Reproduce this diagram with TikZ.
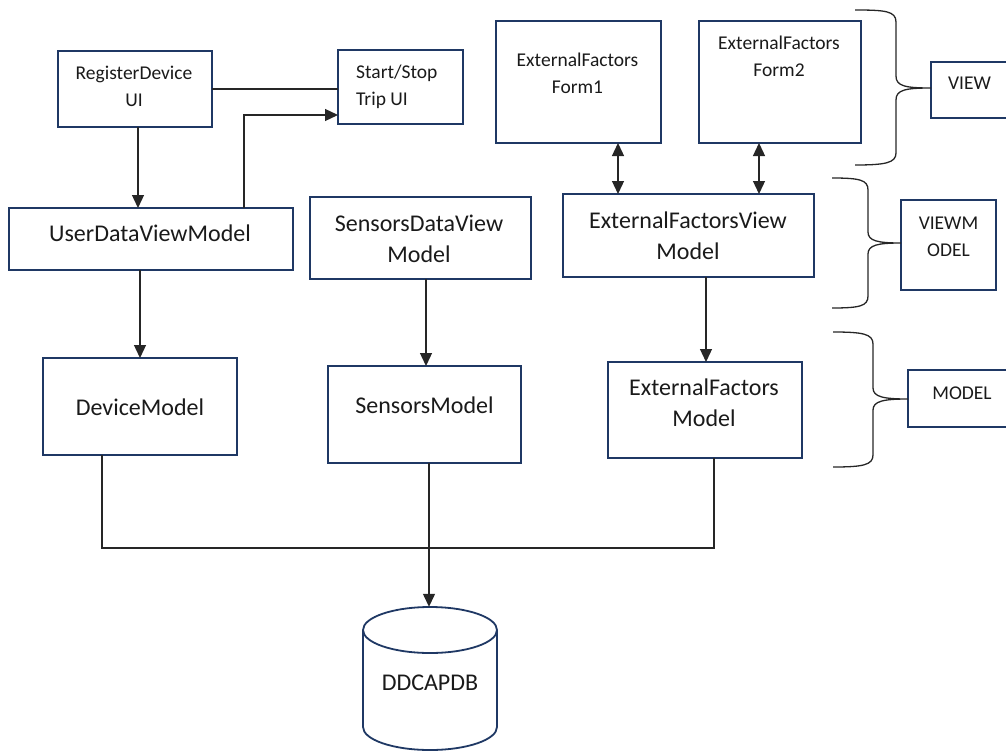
\documentclass[tikz,border=0pt]{standalone}
\usepackage{fontspec}
\setmainfont{Carlito}
\usetikzlibrary{arrows.meta,calc}
\definecolor{navy}{HTML}{1F3864}
\definecolor{ink}{HTML}{1A1A1A}
\definecolor{wire}{HTML}{262626}
\begin{document}
\begin{tikzpicture}[x=1pt,y=-1pt,
  box/.style={draw=navy,line width=1.8pt,inner sep=0pt,outer sep=0pt,fill=none},
  small/.style={text=ink,align=center,inner sep=0pt,font=\fontsize{19.5}{27}\selectfont},
  big/.style={text=ink,align=center,inner sep=0pt,font=\fontsize{24}{31}\selectfont},
  wireline/.style={draw=wire,line width=1.3pt},
  arr/.style={wireline,-{Triangle[length=13pt,width=12pt]}},
  darr/.style={wireline,{Triangle[length=13pt,width=12pt]}-{Triangle[length=13pt,width=12pt]}},
  brace/.style={draw=wire,line width=1.3pt}]
\useasboundingbox (0,0) rectangle (1006,752);
\clip (0,0) rectangle (1006,752);
% boxes
\node[box,minimum width=154pt,minimum height=76pt] (rd) at (135,89) {};
\node[box,minimum width=125pt,minimum height=74pt] (ss) at (400.5,87) {};
\node[box,minimum width=284pt,minimum height=62pt] (udvm) at (151,239) {};
\node[box,minimum width=221pt,minimum height=82pt] (sdvm) at (420.5,238) {};
\node[box,minimum width=165pt,minimum height=122pt] (ef1) at (578.5,82) {};
\node[box,minimum width=162pt,minimum height=122pt] (ef2) at (780,82) {};
\node[box,minimum width=251pt,minimum height=83pt] (efvm) at (688.5,235.5) {};
\node[box,minimum width=194pt,minimum height=97pt] (dm) at (140,406.5) {};
\node[box,minimum width=193pt,minimum height=97pt] (sm) at (424.5,414.5) {};
\node[box,minimum width=194pt,minimum height=96pt] (efm) at (705,410) {};
\node[box,minimum width=84pt,minimum height=56pt] (view) at (973,90) {};
\node[box,minimum width=95pt,minimum height=90pt] (vm) at (948.5,245) {};
\node[box,minimum width=106pt,minimum height=57pt] (model) at (961,398.5) {};
% texts
\node[small] (rd-t) at (134,86.5) {RegisterDevice\\UI};
\node[small,align=left,anchor=west] (ss-t) at (356,86.5) {Start/Stop\\Trip UI};
\node[big] (udvm-t) at (150,233) {UserDataViewModel};
\node[big] (sdvm-t) at (419,239) {SensorsDataView\\Model};
\node[small] (ef1-t) at (577.5,73.5) {ExternalFactors\\Form1};
\node[small] (ef2-t) at (779,56.5) {ExternalFactors\\Form2};
\node[big] (efvm-t) at (688,235.5) {ExternalFactorsView\\Model};
\node[big] (dm-t) at (140,407) {DeviceModel};
\node[big] (sm-t) at (424.5,405) {SensorsModel};
\node[big] (efm-t) at (704,403) {ExternalFactors\\Model};
\node[small] (view-t) at (969.5,83) {VIEW};
\node[small] (vm-t) at (948.5,236.5) {VIEWM\\ODEL};
\node[small] (model-t) at (962,393) {MODEL};
% database
\node[inner sep=0pt,minimum width=134pt,minimum height=143pt] (db) at (430,678.5) {};
\draw[draw=navy,line width=1.8pt] (363,630) -- (363,727)
  arc[start angle=180,end angle=360,x radius=67pt,y radius=23pt] -- (497,630);
\draw[draw=navy,line width=1.8pt] (430,630) ellipse[x radius=67pt,y radius=23pt];
\node[big] (db-t) at (430,683) {DDCAPDB};
% connectors
\draw[wireline] (rd.east) -- (rd.east -| ss.west);
\draw[arr] ([xshift=3pt]rd.south) -- ([xshift=3pt]rd.south |- udvm.north);
\draw[arr] ([xshift=93pt]udvm.north) |- ([yshift=-28pt]ss.west);
\draw[arr] (dm.north |- udvm.south) -- (dm.north);
\draw[arr] ([xshift=1.5pt]sm.north |- sdvm.south) -- ([xshift=1.5pt]sm.north);
\draw[arr] ([xshift=1pt]efm.north |- efvm.south) -- ([xshift=1pt]efm.north);
\draw[darr] ([xshift=39.5pt]ef1.south) -- ([xshift=39.5pt]ef1.south |- efvm.north);
\draw[darr] ([xshift=-21pt]ef2.south) -- ([xshift=-21pt]ef2.south |- efvm.north);
\coordinate (bus) at (430,548);
\draw[wireline] ([xshift=-38pt]dm.south) |- ([xshift=9pt]efm.south |- bus) -- ([xshift=9pt]efm.south);
\draw[arr] ([xshift=4.5pt]sm.south) -- ([xshift=4.5pt]sm.south |- db.north);
% braces
\draw[brace] (855,10) .. controls (885,10) and (896,11) .. (896,22) -- (896,76)
  .. controls (896,86) and (905,88) .. (931,88)
  .. controls (905,88) and (896,90) .. (896,100) -- (896,153)
  .. controls (896,163) and (885,165) .. (855,165);
\draw[brace] (832,178) .. controls (860,178) and (868,180) .. (868,190) -- (868,232)
  .. controls (868,241) and (878,243) .. (901,243)
  .. controls (878,243) and (868,245) .. (868,254) -- (868,296)
  .. controls (868,306) and (860,308) .. (832,308);
\draw[brace] (833,332) .. controls (863,332) and (873,334) .. (873,344) -- (873,388)
  .. controls (873,397) and (884,399) .. (908,399)
  .. controls (884,399) and (873,401) .. (873,410) -- (873,455)
  .. controls (873,465) and (863,467) .. (833,467);
\end{tikzpicture}
\end{document}
